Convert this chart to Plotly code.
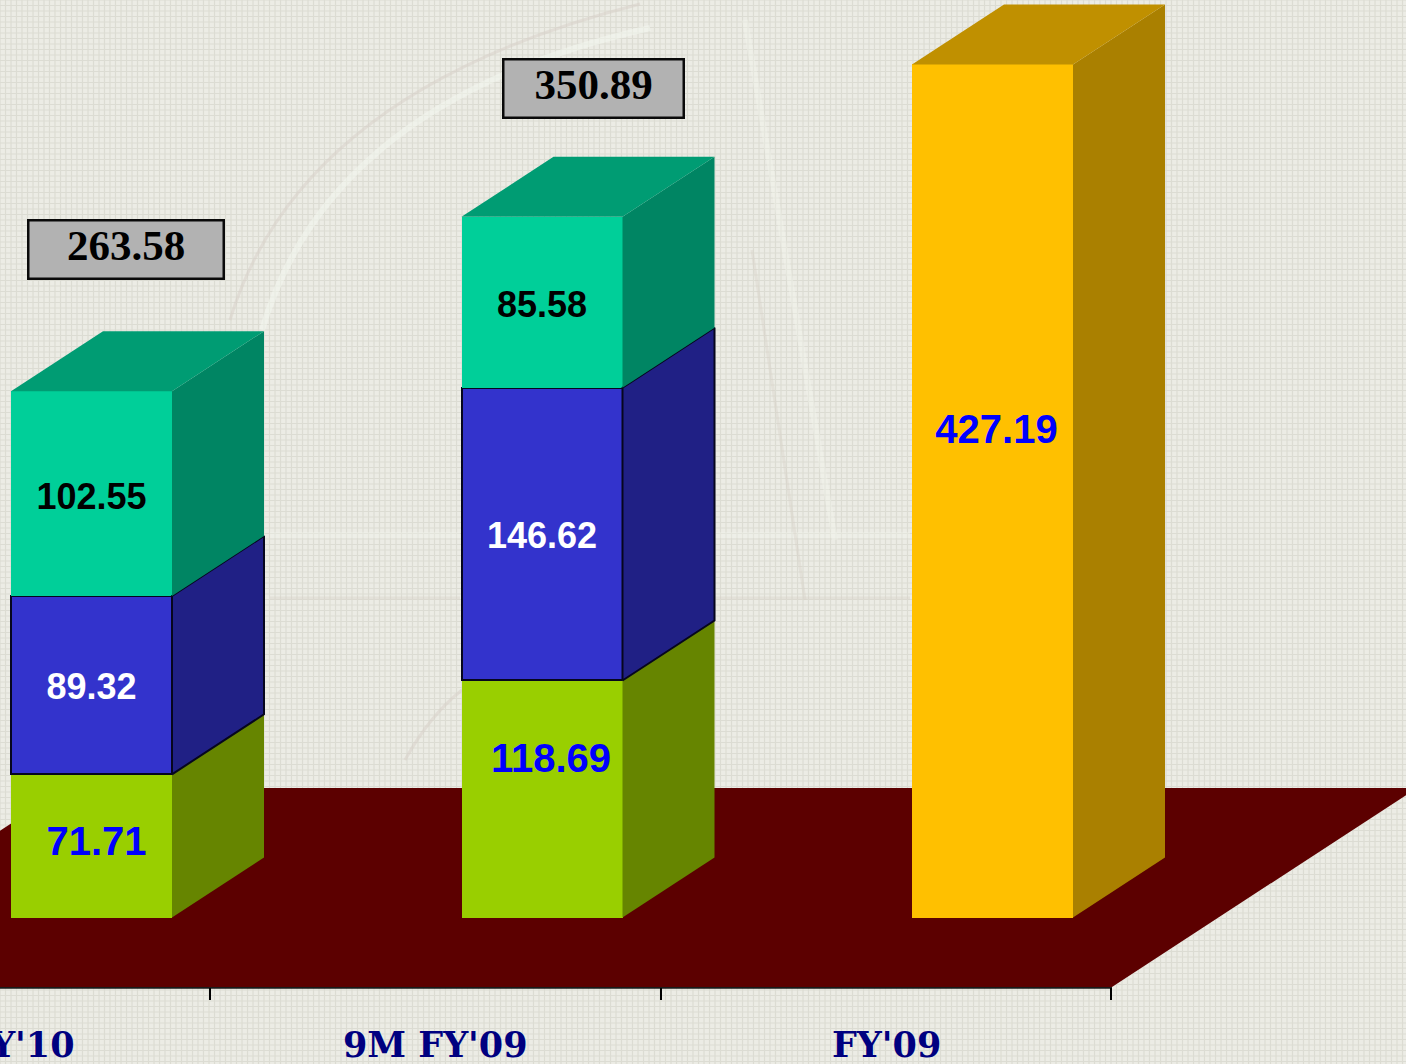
import plotly.graph_objects as go

# ---------- data ----------
categories = ["9M FY'10", "9M FY'09", "FY'09"]
series_a = [71.71, 118.69, None]
series_b = [89.32, 146.62, None]
series_c = [102.55, 85.58, None]
series_d = [None, None, 427.19]
totals = [263.58, 350.89, None]

# ---------- canvas / projection ----------
W, H = 1406, 1064
PLOT_BOTTOM = 987
PX_PER_CAT = 450.5
PX_PER_VAL = 1.997
X0_PX, Y0_PX = 91.5, 917.5
to_x = lambda px: (px - X0_PX) / PX_PER_CAT
to_y = lambda py: (Y0_PX - py) / PX_PER_VAL
BAR_W = 161 / PX_PER_CAT
DX, DY = 92 / PX_PER_CAT, 60 / PX_PER_VAL
FLOOR_DX = 305 / PX_PER_CAT
FLOOR_FRONT, FLOOR_BACK = to_y(987), to_y(788)
FLOOR_LEFT, FLOOR_RIGHT = to_x(1112) - 3, to_x(1112)
EDGE = "#06061E"

styles = [
    dict(name="Segment A", v=series_a, front="#99CF00", side="#668500", top="#7FAD00", txt="#0000FF", size=40, nudge=(5, 0.5), line=False),
    dict(name="Segment B", v=series_b, front="#3333CC", side="#202085", top="#2A2AAA", txt="#FFFFFF", size=36, nudge=(0, -2.5), line=True),
    dict(name="Segment C", v=series_c, front="#00CF99", side="#008563", top="#009C73", txt="#000000", size=36, nudge=(0, -3.0), line=False),
    dict(name="Segment D", v=series_d, front="#FFC000", side="#AA8000", top="#C09000", txt="#0000FF", size=40, nudge=(4, 29.0), line=False),
]

fig = go.Figure()
n = len(categories)
base = [0.0] * n
faces_side, labels = [], []
top_style = {}
for si, s in enumerate(styles):
    fig.add_trace(go.Bar(
        x=list(range(n)), y=s["v"], width=BAR_W, name=s["name"],
        marker=dict(color=s["front"], line=dict(color=EDGE if s["line"] else s["front"], width=2.5 if s["line"] else 0)),
        showlegend=False, hoverinfo="y"))
    for i, v in enumerate(s["v"]):
        if v is None:
            continue
        b, t = base[i], base[i] + v
        xr = i + BAR_W / 2
        faces_side.append(dict(
            x=[xr, xr + DX, xr + DX, xr, xr], y=[b, b + DY, t + DY, t, b],
            fill=s["side"], line=s["line"]))
        top_style[i] = (t, s["top"])
        nx, ny = s["nudge"]
        if (si, i) == (0, 1):  # 118.69 sits off its segment's mid-point
            nx, ny = 9, 18.5
        labels.append(dict(x=i + nx / PX_PER_CAT, y=(b + t) / 2 + ny, text=f"{v:.2f}", color=s["txt"], size=s["size"]))
        base[i] = t

for f in faces_side:
    fig.add_trace(go.Scatter(
        x=f["x"], y=f["y"], mode="lines", fill="toself", fillcolor=f["fill"],
        line=dict(color=EDGE if f["line"] else f["fill"], width=2 if f["line"] else 0),
        showlegend=False, hoverinfo="skip"))
for i, (t, col) in top_style.items():
    xl, xr = i - BAR_W / 2, i + BAR_W / 2
    fig.add_trace(go.Scatter(
        x=[xl, xl + DX, xr + DX, xr, xl], y=[t, t + DY, t + DY, t, t],
        mode="lines", fill="toself", fillcolor=col, line=dict(color=col, width=0),
        showlegend=False, hoverinfo="skip"))
for l in labels:
    fig.add_trace(go.Scatter(
        x=[l["x"]], y=[l["y"]], mode="text", text=[l["text"]], textposition="middle center",
        textfont=dict(family="Liberation Sans", size=l["size"], color=l["color"], weight=700),
        showlegend=False, hoverinfo="skip", cliponaxis=False))

# ---------- background texture + watermark (paper coordinates) ----------
pxx = lambda px: px / W
pyy = lambda py: (PLOT_BOTTOM - py) / PLOT_BOTTOM
grid = []
STEP = 5.5
k = 0
while k * STEP < W:
    grid.append(f"M{pxx(k*STEP):.5f},{pyy(0):.5f}L{pxx(k*STEP):.5f},{pyy(H):.5f}")
    k += 1
k = 0
while k * STEP < H:
    grid.append(f"M0,{pyy(k*STEP):.5f}L1,{pyy(k*STEP):.5f}")
    k += 1

def curve(p0, c, p1):
    return f"M{pxx(p0[0]):.5f},{pyy(p0[1]):.5f}Q{pxx(c[0]):.5f},{pyy(c[1]):.5f} {pxx(p1[0]):.5f},{pyy(p1[1]):.5f}"

def mark(path, color, width, opacity):
    return dict(type="path", path=path, xref="paper", yref="paper", layer="below",
                opacity=opacity, line=dict(color=color, width=width))

def seg(p0, p1):
    return f"M{pxx(p0[0]):.5f},{pyy(p0[1]):.5f}L{pxx(p1[0]):.5f},{pyy(p1[1]):.5f}"

shapes = [
    dict(type="path", path="".join(grid), xref="paper", yref="paper", layer="below",
         line=dict(color="#DCDCD3", width=1.2)),
    mark(curve((230, 320), (300, 90), (640, 4)), "#D8D0C8", 3, 0.5),
    mark(curve((262, 330), (330, 100), (650, 28)), "#F4F8F0", 6, 0.55),
    mark(curve((405, 760), (430, 715), (462, 690)), "#D8D0C8", 3, 0.5),
    mark(seg((270, 535), (460, 535)), "#F4F6EE", 6, 0.35),
    mark(seg((270, 598), (460, 598)), "#D8D2C8", 3, 0.4),
    mark(seg((715, 535), (910, 535)), "#F4F6EE", 6, 0.35),
    mark(seg((715, 598), (910, 598)), "#D8D2C8", 3, 0.4),
    mark(seg((745, 20), (835, 540)), "#F4F6EE", 6, 0.4),
    mark(seg((752, 250), (805, 600)), "#D8D2C8", 3, 0.4),
    # floor
    dict(type="path", xref="x", yref="y", layer="below",
         path=(f"M{FLOOR_LEFT},{FLOOR_FRONT}L{FLOOR_RIGHT},{FLOOR_FRONT}"
               f"L{FLOOR_RIGHT+FLOOR_DX},{FLOOR_BACK}L{FLOOR_LEFT+FLOOR_DX},{FLOOR_BACK}Z"),
         fillcolor="#5C0000", line=dict(width=0)),
    dict(type="line", xref="x", yref="paper", layer="below", x0=FLOOR_LEFT, x1=FLOOR_RIGHT,
         y0=pyy(987.5), y1=pyy(987.5), line=dict(color="#1A1A1A", width=2.5)),
]

# ---------- annotations ----------
annotations = []
tick_font = dict(family="DejaVu Serif", size=35, color="#000080", weight=700)
LABEL_OFF = -106.5 / PX_PER_CAT
label_y = pyy(1044)
annotations.append(dict(x=to_x(77), y=label_y, xref="x", yref="paper", text=categories[0], showarrow=False,
                        xanchor="right", yanchor="middle", font=tick_font))
for i in (1, 2):
    annotations.append(dict(x=i + LABEL_OFF, y=label_y, xref="x", yref="paper", text=categories[i], showarrow=False,
                            xanchor="center", yanchor="middle", font=tick_font))
box_geom = {0: (34.5, 71.1, 193, 56), 1: (51.5, 64.4, 178, 56)}
for i, tot in enumerate(totals):
    if tot is None:
        continue
    ox, oy, bw, bh = box_geom[i]
    annotations.append(dict(
        x=i + ox / PX_PER_CAT, y=tot + oy, xref="x", yref="y", text=f"{tot:.2f}", showarrow=False,
        width=bw, height=bh, align="center", valign="top", bgcolor="#B2B2B2", bordercolor="#0A0A0A",
        borderwidth=2.5, borderpad=0,
        font=dict(family="Liberation Serif", size=43, color="#000000", weight=700)))

tick_base = to_x(210)
fig.update_layout(
    width=W, height=H, autosize=False, barmode="stack", bargap=0,
    margin=dict(l=0, r=0, t=0, b=H - PLOT_BOTTOM, pad=0),
    paper_bgcolor="#ECECE5", plot_bgcolor="rgba(0,0,0,0)", showlegend=False,
    xaxis=dict(range=[to_x(0), to_x(W)], tickmode="array", tickvals=[tick_base + k for k in range(n)],
               ticktext=["", "", ""], ticks="outside", ticklen=12, tickwidth=2, tickcolor="#000000",
               showgrid=False, zeroline=False, showline=False),
    yaxis=dict(range=[to_y(PLOT_BOTTOM), to_y(0)], visible=False, showgrid=False, zeroline=False),
    shapes=shapes, annotations=annotations,
)

fig.write_html("out.html", config={"displayModeBar": False},
               post_script="document.body.style.margin='0';document.body.style.overflow='hidden';")
